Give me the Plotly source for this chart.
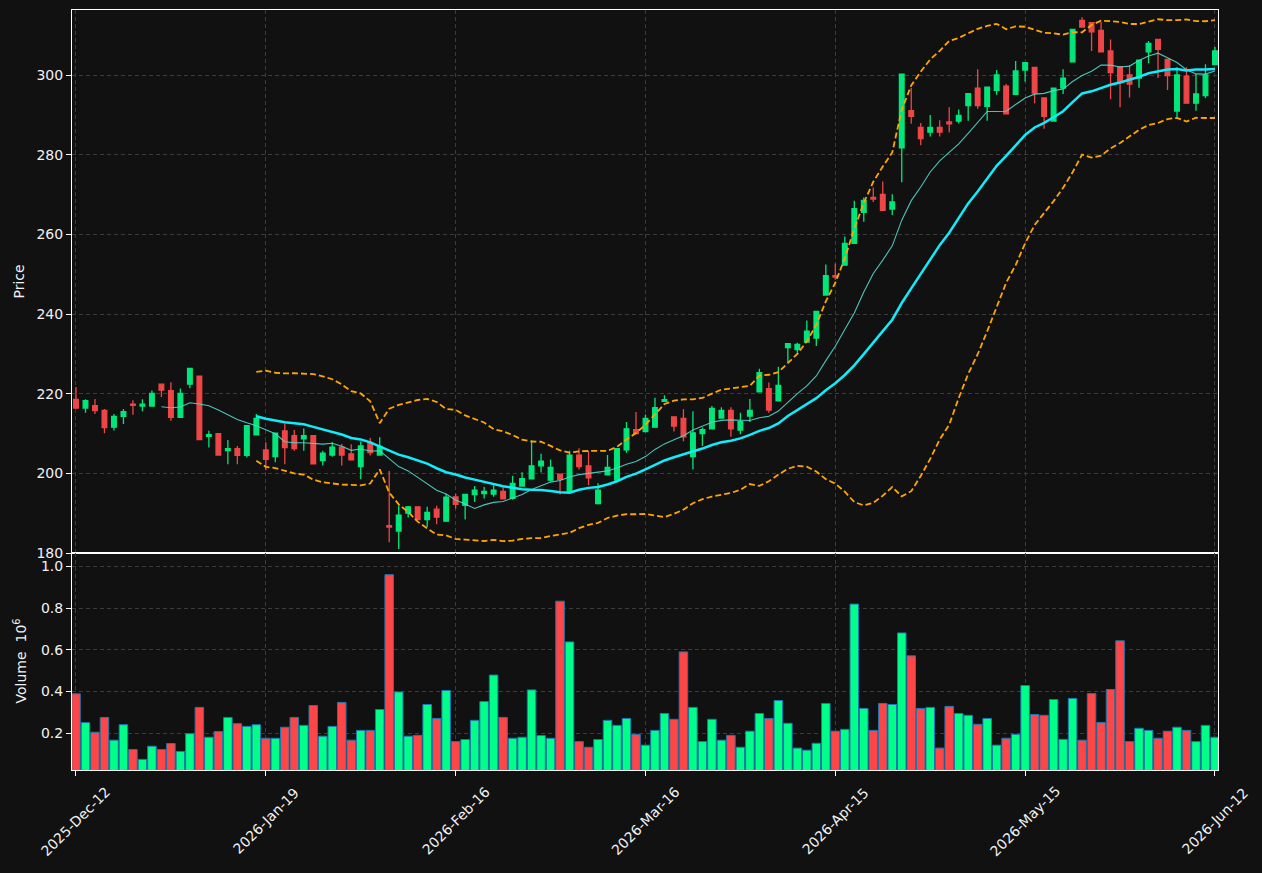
import plotly.graph_objects as go
import pandas as pd

# ---------------- data ----------------
open_ = [218.6, 216.4, 217.0, 215.8, 211.6, 214.3, 217.4, 216.9, 216.9, 222.4,
         220.8, 214.1, 222.4, 224.4, 209.3, 210.0, 205.7, 206.2, 204.5, 209.7,
         205.9, 204.2, 210.7, 209.5, 208.7, 209.5, 203.2, 204.6, 206.6, 204.9,
         201.7, 207.8, 204.6, 186.9, 185.5, 190.0, 191.6, 188.4, 191.0, 188.0,
         194.1, 192.0, 194.7, 194.9, 194.8, 195.5, 193.7, 196.8, 198.6, 201.9,
         198.3, 199.8, 195.4, 204.6, 201.9, 192.4, 199.6, 198.3, 205.9, 211.0,
         210.5, 211.6, 218.1, 214.2, 213.8, 204.2, 210.0, 211.2, 213.9, 215.8,
         210.9, 214.4, 220.5, 221.3, 218.2, 231.6, 231.1, 233.0, 234.0, 244.8,
         249.7, 252.3, 257.8, 265.6, 269.3, 270.1, 266.4, 281.8, 291.1, 286.9,
         285.7, 286.9, 288.3, 288.5, 292.4, 296.8, 292.2, 296.2, 297.3, 295.2,
         301.3, 302.0, 294.3, 288.5, 296.8, 303.4, 313.8, 313.2, 311.3, 306.1,
         302.2, 300.1, 299.3, 305.9, 309.0, 304.0, 291.0, 299.8, 293.0, 294.9,
         302.7]
high = [221.7, 218.6, 218.7, 216.2, 214.9, 216.2, 218.4, 218.6, 220.8, 222.4,
        222.9, 221.3, 226.4, 224.4, 210.7, 210.0, 208.4, 206.9, 212.0, 214.9,
        207.8, 210.1, 212.5, 210.9, 211.3, 209.5, 205.7, 207.8, 207.4, 207.3,
        208.0, 208.9, 209.1, 200.6, 192.0, 191.8, 191.6, 191.6, 191.9, 194.9,
        194.9, 194.7, 196.8, 196.6, 197.0, 196.5, 199.4, 200.3, 208.3, 204.9,
        203.5, 199.8, 205.7, 206.3, 205.7, 197.5, 204.6, 206.2, 212.9, 215.4,
        214.8, 219.0, 219.6, 214.2, 216.2, 215.6, 211.5, 216.9, 216.6, 216.6,
        215.2, 218.7, 226.3, 222.8, 226.8, 232.6, 232.8, 238.4, 240.7, 252.5,
        252.7, 259.5, 268.5, 269.3, 271.8, 273.3, 270.1, 300.3, 296.8, 288.0,
        290.0, 288.7, 292.0, 291.4, 295.4, 301.5, 297.0, 301.3, 297.8, 303.6,
        303.2, 302.0, 294.3, 296.8, 301.5, 311.5, 314.6, 313.2, 313.4, 309.0,
        302.2, 302.6, 303.8, 308.6, 309.0, 304.0, 302.0, 302.0, 300.3, 302.8,
        307.1]
low = [216.2, 215.2, 214.9, 210.1, 210.8, 212.4, 214.7, 215.6, 216.9, 219.2,
       213.2, 214.1, 221.4, 208.5, 206.5, 204.5, 202.3, 202.3, 204.0, 209.7,
       200.8, 202.8, 202.3, 205.7, 205.7, 202.4, 202.0, 204.2, 202.0, 203.4,
       198.5, 204.5, 204.6, 182.7, 181.0, 188.9, 188.4, 186.5, 187.2, 187.8,
       191.1, 188.4, 192.8, 193.7, 194.1, 193.6, 193.4, 196.8, 198.6, 200.2,
       197.9, 194.7, 195.4, 201.0, 197.0, 192.2, 199.6, 198.3, 205.2, 210.0,
       210.5, 211.6, 217.9, 210.5, 208.1, 201.0, 206.9, 211.2, 213.7, 209.2,
       209.8, 212.9, 220.5, 215.2, 218.2, 228.0, 230.3, 233.0, 232.0, 244.8,
       248.7, 252.3, 257.8, 263.2, 268.2, 266.1, 264.9, 273.1, 287.8, 282.4,
       284.6, 284.6, 285.6, 287.9, 288.6, 291.6, 288.6, 295.1, 290.3, 295.2,
       298.4, 293.0, 286.6, 288.5, 295.3, 303.4, 312.1, 306.1, 305.9, 294.0,
       292.0, 294.4, 296.9, 303.0, 299.3, 296.3, 289.5, 293.0, 291.1, 294.3,
       302.7]
close = [216.4, 218.3, 215.8, 211.5, 214.3, 215.5, 217.1, 217.4, 220.1, 220.9,
         214.1, 220.1, 226.4, 208.5, 209.7, 204.6, 206.2, 204.5, 212.0, 213.8,
         203.5, 210.1, 206.5, 206.2, 209.5, 202.4, 205.1, 206.6, 204.6, 203.4,
         206.9, 205.2, 206.8, 186.5, 189.5, 191.6, 188.4, 190.2, 189.0, 194.0,
         192.2, 194.7, 195.8, 195.5, 195.8, 193.6, 197.5, 198.7, 201.9, 203.1,
         201.5, 198.5, 204.6, 201.7, 198.9, 195.8, 201.5, 206.2, 211.2, 210.0,
         213.8, 216.5, 218.5, 211.9, 209.2, 210.2, 211.0, 216.3, 215.8, 211.2,
         213.0, 215.8, 225.3, 215.9, 222.1, 232.6, 232.4, 235.7, 240.7, 249.7,
         249.3, 257.8, 266.5, 268.6, 268.9, 266.1, 268.2, 300.3, 289.7, 284.1,
         286.9, 285.7, 287.8, 289.9, 295.4, 292.4, 297.0, 300.1, 290.3, 301.1,
         303.2, 295.5, 289.7, 296.8, 299.3, 311.5, 312.1, 310.9, 305.9, 300.7,
         298.4, 297.8, 303.8, 308.0, 306.5, 299.9, 300.1, 293.0, 295.3, 300.1,
         306.1]
volume_m = [0.389, 0.251, 0.205, 0.276, 0.167, 0.241, 0.122, 0.075, 0.138, 0.122,
            0.151, 0.113, 0.198, 0.324, 0.181, 0.208, 0.276, 0.246, 0.233, 0.241,
            0.176, 0.176, 0.229, 0.276, 0.238, 0.333, 0.186, 0.233, 0.348, 0.167,
            0.214, 0.214, 0.314, 0.960, 0.398, 0.186, 0.190, 0.338, 0.271, 0.405,
            0.160, 0.170, 0.262, 0.352, 0.479, 0.276, 0.176, 0.181, 0.408, 0.189,
            0.176, 0.833, 0.638, 0.160, 0.133, 0.170, 0.262, 0.238, 0.271, 0.195,
            0.143, 0.214, 0.295, 0.267, 0.590, 0.324, 0.160, 0.267, 0.167, 0.190,
            0.133, 0.210, 0.295, 0.271, 0.357, 0.248, 0.129, 0.119, 0.152, 0.343,
            0.210, 0.219, 0.819, 0.319, 0.214, 0.343, 0.338, 0.681, 0.571, 0.319,
            0.324, 0.129, 0.329, 0.295, 0.286, 0.243, 0.271, 0.143, 0.176, 0.195,
            0.429, 0.290, 0.286, 0.362, 0.171, 0.367, 0.167, 0.390, 0.252, 0.410,
            0.643, 0.160, 0.224, 0.214, 0.176, 0.210, 0.229, 0.214, 0.160, 0.238,
            0.181]
tick_positions = [0, 20, 40, 60, 80, 100, 120]
tick_labels = ["2025-Dec-12", "2026-Jan-19", "2026-Feb-16", "2026-Mar-16",
               "2026-Apr-15", "2026-May-15", "2026-Jun-12"]
price_ticks = [180, 200, 220, 240, 260, 280, 300]
volume_ticks = [0.2, 0.4, 0.6, 0.8, 1.0]

# ---------------- indicators ----------------
idx = list(range(len(close)))
cs = pd.Series(close)
sma10 = cs.rolling(10).mean()
sma20 = cs.rolling(20).mean()
std20 = cs.rolling(20).std(ddof=0)
bb_up = sma20 + 2 * std20
bb_lo = sma20 - 2 * std20

UP_C = "#00e67a"
DN_C = "#ee4646"
VUP_C = "#00ff88"
VDN_C = "#ff4646"
BG = "#111111"
GRID = "#3c3c3c"
FONT = dict(family="DejaVu Sans", size=14, color="#f2f2f2")

fig = go.Figure()
fig.add_trace(go.Candlestick(
    x=idx, open=open_, high=high, low=low, close=close,
    increasing=dict(line=dict(color=UP_C, width=1.3), fillcolor=UP_C),
    decreasing=dict(line=dict(color=DN_C, width=1.3), fillcolor=DN_C),
    whiskerwidth=0, showlegend=False, xaxis="x", yaxis="y"))
fig.add_trace(go.Scatter(x=idx, y=sma10, mode="lines",
                         line=dict(color="rgba(80,215,205,0.9)", width=1.1),
                         showlegend=False, xaxis="x", yaxis="y"))
fig.add_trace(go.Scatter(x=idx, y=sma20, mode="lines",
                         line=dict(color="#10ecfa", width=2.5),
                         showlegend=False, xaxis="x", yaxis="y"))
for band in (bb_up, bb_lo):
    fig.add_trace(go.Scatter(x=idx, y=band, mode="lines",
                             line=dict(color="#ffa500", width=1.8, dash="6px,3px"),
                             showlegend=False, xaxis="x", yaxis="y"))

vcolors = [VUP_C if c >= o else VDN_C for o, c in zip(open_, close)]
fig.add_trace(go.Bar(x=idx, y=volume_m, width=0.9, marker=dict(
    color=vcolors, line=dict(color="#1f77b4", width=1)),
    showlegend=False, xaxis="x2", yaxis="y2"))

split = 217 / 760
xr = [-0.42, 120.32]
common_x = dict(range=xr, tickvals=tick_positions, showgrid=True, gridcolor=GRID,
                griddash="4px,3px", gridwidth=1, showline=True, mirror=True,
                linecolor="white", linewidth=1, zeroline=False)
common_y = dict(showgrid=True, gridcolor=GRID, griddash="4px,3px", gridwidth=1,
                showline=True, mirror=True, linecolor="white", linewidth=1,
                zeroline=False, ticks="outside", ticklen=5, tickcolor="white",
                tickfont=FONT)

# rotated date labels centred under their ticks (matplotlib style)
date_annotations = [
    dict(text=lab, xref="x2", yref="paper", x=pos, y=-51 / 760,
         xanchor="center", yanchor="middle", textangle=-45,
         showarrow=False, font=FONT)
    for pos, lab in zip(tick_positions, tick_labels)
]

fig.update_layout(
    width=1262, height=873,
    paper_bgcolor=BG, plot_bgcolor=BG,
    font=FONT,
    margin=dict(l=72, r=44, t=10, b=103),
    showlegend=False,
    xaxis=dict(domain=[0, 1], anchor="y", showticklabels=False, ticks="",
               rangeslider=dict(visible=False), **common_x),
    xaxis2=dict(domain=[0, 1], anchor="y2", matches="x", showticklabels=False,
                ticks="outside", ticklen=5, tickcolor="white", **common_x),
    yaxis=dict(domain=[split, 1], anchor="x", range=[180, 316.4],
               tickvals=price_ticks, **common_y),
    yaxis2=dict(domain=[0, split], anchor="x2", range=[0.024, 1.064],
                tickvals=volume_ticks,
                ticktext=[f"{v:.1f}" for v in volume_ticks], **common_y),
    annotations=[
        dict(text="Price", xref="paper", yref="paper", x=-54 / 1146,
             y=split + (1 - split) / 2, xanchor="center", yanchor="middle",
             textangle=-90, showarrow=False, font=FONT),
        dict(text="Volume  10<sup>6</sup>", xref="paper", yref="paper",
             x=-52 / 1146, y=split / 2, xanchor="center", yanchor="middle",
             textangle=-90, showarrow=False, font=FONT),
    ] + date_annotations,
)

fig.write_html("out.html")
